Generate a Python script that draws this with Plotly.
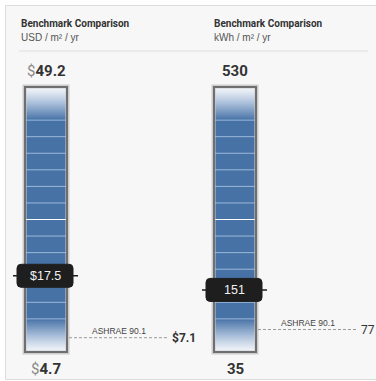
import numpy as np
import plotly.graph_objects as go

W, H = 376, 381

# data
units = ["USD / m² / yr", "kWh / m² / yr"]
prefix = ["$", ""]
scale_min = [4.7, 35]
scale_max = [49.2, 530]
current = [17.5, 151]
ashrae = [7.1, 77]
min_labels = ["4.7", "35"]
max_labels = ["49.2", "530"]
cur_labels = ["$17.5", "151"]
ash_labels = ["<b>$7.1</b>", "77"]

# layout in pixels
bar_x = [(25, 67), (214, 256)]
head_x = [19, 212]
bar_top, bar_bot = 87, 352
n_seg = 16
BLUE = "#4672a6"
COND = "Roboto, Liberation Sans, sans-serif"
SANS = "Liberation Sans, Arial, sans-serif"


def px(v):
    return v / W


def py(v):
    return 1 - v / H


fig = go.Figure()
shapes = []
annos = []
ranges = []

# panel
shapes.append(dict(type="rect", xref="paper", yref="paper", x0=px(5.5), x1=px(W + 5), y0=py(379.5), y1=py(5.5),
                   fillcolor="#f7f7f7", line=dict(color="#dcdcdc", width=1), layer="below"))
shapes.append(dict(type="line", xref="paper", yref="paper", x0=px(19), x1=px(368), y0=py(51), y1=py(51),
                   line=dict(color="#dedede", width=1), layer="below"))

for i in range(2):
    ya = "y" if i == 0 else "y2"
    lo, hi = scale_min[i], scale_max[i]
    upp = (hi - lo) / (bar_bot - bar_top)  # value per pixel
    ranges.append([lo - (H - bar_bot) * upp, hi + bar_top * upp])
    x0, x1 = bar_x[i]
    xc = (x0 + x1) / 2

    # gradient column
    rows = 264
    edges = np.linspace(lo, hi, rows + 1)
    mids = (edges[:-1] + edges[1:]) / 2
    s = (mids - lo) / (hi - lo) * n_seg
    d = np.minimum(s, n_seg - s)
    z = np.clip(d / 2, 0, 1) ** 1.2
    fig.add_trace(go.Heatmap(x=[x0, x1], y=edges, z=z.reshape(-1, 1), zmin=0, zmax=1,
                             colorscale=[[0, "#f3f6fa"], [0.5, "#9cb4d2"], [1, BLUE]],
                             showscale=False, hoverinfo="skip", yaxis=ya, xaxis="x"))
    # segment separators
    for k in range(1, n_seg):
        v = lo + (hi - lo) * k / n_seg
        col = "#ffffff" if k == n_seg // 2 else "rgba(165,192,224,0.9)"
        shapes.append(dict(type="line", xref="x", yref=ya, x0=x0, x1=x1, y0=v, y1=v,
                           line=dict(color=col, width=1)))
    # frame
    shapes.append(dict(type="rect", xref="x", yref=ya, x0=x0 - 0.5, x1=x1 + 0.5, y0=lo - upp * 0.5, y1=hi + upp * 0.5,
                       line=dict(color="#cccccc", width=4)))
    shapes.append(dict(type="rect", xref="x", yref=ya, x0=x0, x1=x1, y0=lo, y1=hi,
                       line=dict(color="#6f6f6f", width=2)))

    # ASHRAE reference
    a = ashrae[i]
    shapes.append(dict(type="line", xref="x", yref=ya, x0=x1 + 2, x1=x1 + 101, y0=a, y1=a,
                       line=dict(color="#9a9a9a", width=1, dash="3px,2px")))
    annos.append(dict(x=x1 + 52, y=a + 6.5 * upp, xref="x", yref=ya, text="ASHRAE 90.1", showarrow=False,
                      font=dict(family=SANS, size=8.5, color="#444")))
    annos.append(dict(x=x1 + 103, y=a, xref="x", yref=ya, text=ash_labels[i], showarrow=False, xanchor="left",
                      font=dict(family=COND, size=12, color="#333")))

    # current value marker
    c = current[i]
    shapes.append(dict(type="line", xref="x", yref=ya, x0=x0 - 12, x1=x1 + 11, y0=c, y1=c,
                       line=dict(color="#1e1e1e", width=1.5)))
    bx0, bx1 = x0 - 8, x1 + 6
    hh = 11.5 * upp
    r, ry = 4, 4 * upp
    path = (f"M {bx0 + r},{c - hh} L {bx1 - r},{c - hh} Q {bx1},{c - hh} {bx1},{c - hh + ry} "
            f"L {bx1},{c + hh - ry} Q {bx1},{c + hh} {bx1 - r},{c + hh} "
            f"L {bx0 + r},{c + hh} Q {bx0},{c + hh} {bx0},{c + hh - ry} "
            f"L {bx0},{c - hh + ry} Q {bx0},{c - hh} {bx0 + r},{c - hh} Z")
    shapes.append(dict(type="path", xref="x", yref=ya, path=path, fillcolor="#1e1e1e",
                       line=dict(color="#1e1e1e", width=1)))
    annos.append(dict(x=(bx0 + bx1) / 2, y=c, xref="x", yref=ya, text=cur_labels[i], showarrow=False,
                      font=dict(family=SANS, size=12.5, color="#f2f2f2")))

    # scale end labels
    p = f"<span style='color:#8a8a8a;font-weight:normal'>{prefix[i]}</span>" if prefix[i] else ""
    annos.append(dict(x=xc, y=hi + 16 * upp, xref="x", yref=ya, text=p + "<b>" + max_labels[i] + "</b>",
                      showarrow=False, font=dict(family=COND, size=15, color="#333")))
    annos.append(dict(x=xc, y=lo - 17 * upp, xref="x", yref=ya, text=p + "<b>" + min_labels[i] + "</b>",
                      showarrow=False, font=dict(family=COND, size=15, color="#333")))

    # header
    annos.append(dict(x=px(head_x[i]), y=py(23), xref="paper", yref="paper", xanchor="left", yanchor="middle",
                      text="<b>Benchmark Comparison</b>",
                      showarrow=False, font=dict(family=COND, size=10, color="#333")))
    annos.append(dict(x=px(head_x[i]), y=py(37), xref="paper", yref="paper", xanchor="left", yanchor="middle",
                      text=units[i], showarrow=False, font=dict(family=SANS, size=10, color="#555")))

fig.update_layout(
    width=W, height=H, margin=dict(l=0, r=0, t=0, b=0),
    paper_bgcolor="white", plot_bgcolor="rgba(0,0,0,0)", showlegend=False,
    xaxis=dict(range=[0, W], domain=[0, 1], visible=False, fixedrange=True),
    yaxis=dict(range=ranges[0], domain=[0, 1], visible=False),
    yaxis2=dict(range=ranges[1], domain=[0, 1], visible=False, overlaying="y"),
    shapes=shapes, annotations=annos,
)
fig.write_html("out.html", config={"displayModeBar": False},
               post_script="document.body.style.margin='0';")
